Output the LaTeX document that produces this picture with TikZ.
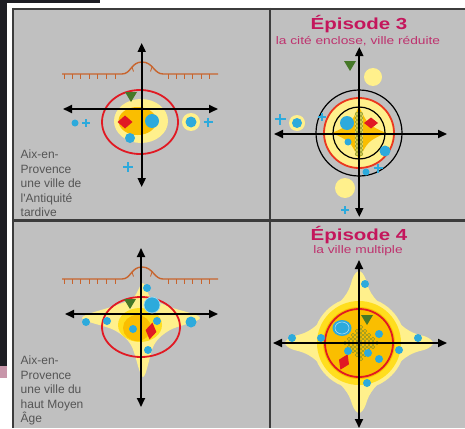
\documentclass[tikz,border=0pt]{standalone}
\usepackage{fontspec}
\setmainfont{Liberation Sans}
\usetikzlibrary{arrows.meta}
\definecolor{bg}{RGB}{192,192,192}
\definecolor{lyel}{RGB}{255,240,140}
\definecolor{myel}{RGB}{255,222,30}
\definecolor{goldc}{RGB}{250,190,0}
\definecolor{redc}{RGB}{225,25,35}
\definecolor{redo}{RGB}{235,55,30}
\definecolor{bluec}{RGB}{45,170,220}
\definecolor{greenc}{RGB}{70,120,40}
\definecolor{brownc}{RGB}{200,100,45}
\definecolor{titlec}{RGB}{196,22,92}
\definecolor{subc}{RGB}{190,50,110}
\definecolor{txtc}{RGB}{85,85,85}
\definecolor{divc}{RGB}{60,60,60}
\definecolor{olivec}{RGB}{140,150,40}
\definecolor{colc}{RGB}{225,215,95}
\definecolor{photo}{RGB}{30,30,36}
\definecolor{pinkc}{RGB}{200,150,170}
\begin{document}
\begin{tikzpicture}[x=1pt,y=-1pt,
 axis/.style={line width=1.8pt,{Triangle[length=9pt,width=8pt]}-{Triangle[length=9pt,width=8pt]}},
 wall/.style={brownc,line width=1.4pt},
 wtick/.style={brownc,line width=0.9pt},
 bdot/.style={fill=bluec},
 pluss/.pic={\draw[bluec,line width=1.4pt] (-1,0)--(1,0) (0,-1)--(0,1);},
 gtri/.pic={\fill[greenc] (-6,-5)--(6,-5)--(0,5)--cycle;},
 lefttxt/.style={txtc,font=\fontsize{12}{14.4}\selectfont,align=left,inner sep=0pt,anchor=north west},
 titl/.style={titlec,font=\fontsize{16}{18}\selectfont\bfseries,inner sep=0pt,anchor=base},
 subt/.style={subc,font=\fontsize{11}{13}\selectfont,inner sep=0pt,anchor=base},
 divline/.style={divc,line width=2.5pt},
 blackc/.style={black,line width=1.2pt}
]
\useasboundingbox (0,0) rectangle (465,428);
% surroundings
\fill[white] (0,0) rectangle (465,428);
\fill[photo] (0,0) rectangle (7,366);
\fill[pinkc] (0,366) rectangle (7,378);
\fill[photo] (0,0) rectangle (100,3);
% panel
\fill[bg] (12,8) rectangle (465,428);

% ================= Episode 1 (top-left)
\fill[lyel] (141,121) ellipse[x radius=27pt,y radius=22pt];
\fill[goldc] (137.5,121) ellipse[x radius=19pt,y radius=14pt];
\draw[redc,line width=1.8pt] (140,122) ellipse[x radius=38pt,y radius=32pt];
\draw[wall] (62,74) -- (122,74) .. controls (131,74) and (131,62) .. (142,62) .. controls (153,62) and (154,74) .. (163,74) -- (218,74);
\foreach \x in {64,72,80,89,97,106,115,168,176,184,192,201,209}
  \draw[wtick] (\x,74) -- ++(0,5);
\draw[wtick] (132,67) -- ++(1.5,4.5);
\draw[wtick] (152,67) -- ++(-1.5,4.5);
\draw[axis] (141.7,43) -- (141.7,187);
\draw[axis] (63,109) -- (218,109);
\pic at (131,97) {gtri};
\fill[redc] (117.5,122) -- (125,115.5) -- (132.5,122) -- (125,128.5) -- cycle;
\fill[bdot] (152,121) circle[radius=7pt];
\fill[bdot] (130,138) circle[radius=5pt];
\fill[lyel] (191,122) circle[radius=9pt];
\fill[bdot] (191,122) circle[radius=5.5pt];
\pic[scale=4.5] at (208,122) {pluss};
\fill[bdot] (75,123) circle[radius=3.5pt];
\pic[scale=4] at (86,123) {pluss};
\pic[scale=5] at (128,167) {pluss};
\node[lefttxt] (t1) at (20.5,150) {Aix-en-\\Provence\\une ville de\\l\textquotesingle Antiquité\\tardive};

% ================= Episode 3 (top-right)
\node[titl] (h3) at (359,29.5) {\scalebox{1.28}[1]{Épisode 3}};
\node[subt] (s3) at (358,44.5) {\scalebox{1.25}[1]{la cité enclose, ville réduite}};
\fill[lyel] (359,133) circle[radius=35pt];
\begin{scope}
\clip (359,133) circle[radius=26pt];
\fill[goldc,shift={(359,133)}] (0,-27) .. controls (8,-9) and (9,-8) .. (27,0) .. controls (9,8) and (8,9) .. (0,27) .. controls (-8,9) and (-9,8) .. (-27,0) .. controls (-9,-8) and (-8,-9) .. cycle;
\end{scope}
\fill[colc] (355,112) rectangle (363,156);
\foreach \y in {114,118,...,154} {
  \draw[olivec,line width=0.5pt] (357,\y) circle[radius=1.7pt];
  \draw[olivec,line width=0.5pt] (361,\y) circle[radius=1.7pt];
}
\draw[redo,line width=1.8pt] (359,133) circle[radius=35pt];
\draw[blackc] (359,133) circle[radius=43pt];
\draw[blackc] (359,133) circle[radius=26pt];
\draw[axis] (359.3,47) -- (359.3,217);
\draw[axis] (274,134) -- (447,134);
\fill[redc] (364,123) -- (371,117.5) -- (378,123) -- (371,128.5) -- cycle;
\fill[bdot] (347,123) circle[radius=7pt];
\fill[bdot] (348,142) circle[radius=3.5pt];
\fill[bdot] (385,151) circle[radius=5.5pt];
\fill[bdot] (366,172) circle[radius=3.5pt];
\pic[scale=4.5] at (378,168) {pluss};
\pic[scale=4] at (322,117) {pluss};
\pic[scale=5.5] at (280,119) {pluss};
\fill[lyel] (297,123) circle[radius=8pt];
\fill[bdot] (297,123) circle[radius=5pt];
\pic at (350,66) {gtri};
\fill[lyel] (373,77) circle[radius=9pt];
\fill[lyel] (345,188) circle[radius=10pt];
\pic[scale=4] at (345,210) {pluss};

% ================= Episode 2 (bottom-left)
\fill[lyel] plot[smooth cycle,tension=0.55] coordinates {(143,283) (151,298) (170,307) (200,318) (170,330) (154,345) (143,377) (131,345) (114,330) (82,318) (114,306) (133,298)};
\fill[myel] (140,325) ellipse[x radius=22pt,y radius=17pt];
\fill[goldc] (137,328) ellipse[x radius=14pt,y radius=13pt];
\draw[redc,line width=1.8pt] (141,327) ellipse[x radius=39pt,y radius=30pt];
\draw[wall] (62,279) -- (122,279) .. controls (131,279) and (131,267) .. (142,267) .. controls (153,267) and (154,279) .. (163,279) -- (218,279);
\foreach \x in {64,72,80,89,97,106,115,168,176,184,192,201,209}
  \draw[wtick] (\x,279) -- ++(0,5);
\draw[wtick] (132,272) -- ++(1.5,4.5);
\draw[wtick] (152,272) -- ++(-1.5,4.5);
\draw[axis] (141,248) -- (141,407);
\draw[axis] (65,314) -- (218,314);
\pic at (130,304) {gtri};
\fill[bdot,draw=white!55!bluec,line width=0.7pt] (152,305) circle[radius=8pt];
\fill[bdot] (147,288) circle[radius=4pt];
\fill[redc,shift={(151,331)},rotate=-10] (-5.5,0) -- (0,-8.5) -- (5.5,0) -- (0,8.5) -- cycle;
\foreach \p in {(133,329),(157,321),(107,321),(86,322),(148,350)}
  \fill[bdot] \p circle[radius=4pt];
\fill[bdot] (191,322) circle[radius=5.5pt];
\node[lefttxt] (t2) at (20.5,356) {Aix-en-\\Provence\\une ville du\\haut Moyen\\Âge};

% ================= Episode 4 (bottom-right)
\node[titl] (h4) at (359,240) {\scalebox{1.28}[1]{Épisode 4}};
\node[subt] (s4) at (358,253.5) {\scalebox{1.25}[1]{la ville multiple}};
\fill[lyel] (359,343) circle[radius=46pt];
\foreach \a/\L in {0/74,90/72,180/74,270/70}
  \fill[lyel,shift={(359,343)},rotate=\a] (28,-34) .. controls (42,-16) and (50,-10) .. (\L-9,-7) .. controls (\L-3,-5) and (\L,-2) .. (\L,0) .. controls (\L,2) and (\L-3,5) .. (\L-9,7) .. controls (50,10) and (42,16) .. (28,34) -- cycle;
\fill[myel] (359,343) circle[radius=42pt];
\fill[goldc] (359,343) circle[radius=36pt];
\foreach \i in {-4,...,4} \foreach \j in {-4,...,4} {
  \pgfmathtruncatemacro\s{abs(\i)+abs(\j)}
  \ifnum\s<5 \draw[olivec,line width=0.5pt] (361+\i*4,343+\j*4) circle[radius=1.7pt]; \fi
}
\draw[redc,line width=1.8pt] (359,343) circle[radius=34pt];
\draw[axis] (359,260) -- (359,428);
\draw[axis] (273,343) -- (447,343);
\fill[bdot] (342,328) ellipse[x radius=9.5pt,y radius=8pt];
\draw[white!60!bluec,line width=0.6pt] (342,328) ellipse[x radius=7pt,y radius=6pt];
\pic at (367,320) {gtri};
\fill[redc,shift={(344,362)},rotate=-25] (-5.5,0) -- (0,-8.5) -- (5.5,0) -- (0,8.5) -- cycle;
\foreach \p in {(365,284),(292,338),(321,338),(379,334),(418,338),(399,350),(348,351),(368,353),(379,359),(367,383)}
  \fill[bdot] \p circle[radius=4pt];

% ================= frame and dividers
\draw[divline] (12,8.8) -- (465,8.8);
\draw[divline] (12.8,8) -- (12.8,428);
\draw[divline] (270,8) -- (270,428);
\draw[divline] (12,220.5) -- (465,220.5);
\end{tikzpicture}
\end{document}
